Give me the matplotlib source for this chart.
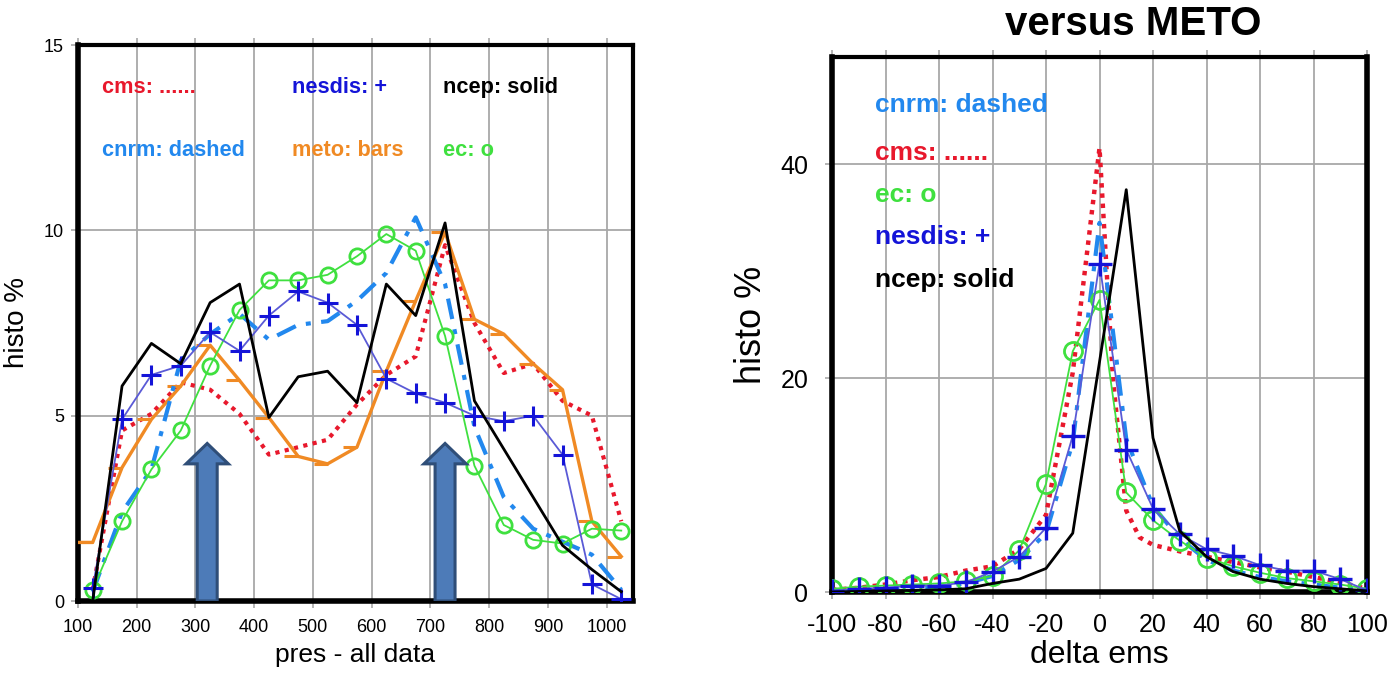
import matplotlib
matplotlib.use("Agg")
import matplotlib.pyplot as plt
from matplotlib.path import Path
from matplotlib.patches import FancyArrow

plt.rcParams['font.family'] = ['Liberation Sans', 'DejaVu Sans']
plt.rcParams['axes.unicode_minus'] = False

# ---------------- pressure histograms (left panel) ----------------
pres = [125, 175, 225, 275, 325, 375, 425, 475, 525, 575,
        625, 675, 725, 775, 825, 875, 925, 975, 1025]

ncep_pres = [0.0, 5.8, 6.95, 6.4, 8.05, 8.55, 4.95, 6.05, 6.2, 5.35,
             8.55, 7.7, 10.2, 5.4, 4.1, 2.8, 1.5, 0.85, 0.25]
cms_pres = [0.3, 4.6, 5.05, 5.9, 5.7, 5.05, 3.95, 4.15, 4.35, 5.3,
            6.1, 6.6, 9.6, 7.5, 6.15, 6.4, 5.4, 5.0, 2.15]
nesdis_pres = [0.35, 4.9, 6.1, 6.35, 7.25, 6.75, 7.7, 8.35, 8.05, 7.45,
               6.0, 5.6, 5.35, 5.0, 4.85, 5.0, 3.95, 0.45, 0.05]
ec_pres = [0.3, 2.15, 3.55, 4.6, 6.35, 7.85, 8.65, 8.65, 8.8, 9.3,
           9.9, 9.45, 7.15, 3.65, 2.05, 1.65, 1.55, 1.95, 1.9]
cnrm_pres = [0.25, 2.4, 3.55, 6.5, 7.2, 7.75, 7.05, 7.45, 7.55, 8.1,
             8.85, 10.35, 8.55, 4.7, 2.8, 1.95, 1.6, 1.25, 0.3]
meto_pres_x = [100] + pres
meto_pres = [1.58, 1.58, 3.6, 4.9, 5.8, 6.9, 5.95, 4.95, 3.9, 3.7, 4.15,
             6.2, 8.1, 9.95, 7.6, 7.2, 6.4, 5.7, 2.15, 1.2]

arrow_pres = [320, 725]
arrow_top = 4.25

# ---------------- delta ems histograms (right panel) ----------------
dems = [-100, -90, -80, -70, -60, -50, -40, -30, -20, -10,
        0, 10, 20, 30, 40, 50, 60, 70, 80, 90, 100]

ncep_dems = [0.0, 0.05, 0.1, 0.15, 0.2, 0.3, 0.8, 1.2, 2.2, 5.5,
             21.5, 37.6, 14.4, 5.7, 3.3, 1.9, 1.2, 0.8, 0.5, 0.3, 0.1]
cnrm_dems = [0.05, 0.1, 0.2, 0.3, 0.5, 0.8, 1.5, 3.0, 5.5, 14.0,
             34.5, 14.3, 8.0, 5.0, 3.0, 2.0, 1.4, 1.0, 0.7, 0.4, 0.2]
ec_dems = [0.3, 0.5, 0.6, 0.7, 0.8, 1.0, 1.5, 3.9, 10.1, 22.5,
           27.3, 9.3, 6.7, 4.8, 3.2, 2.4, 1.8, 1.3, 1.0, 0.7, 0.3]
nesdis_dems = [0.1, 0.3, 0.4, 0.6, 0.6, 0.9, 1.9, 3.3, 6.0, 14.6,
               30.7, 13.3, 7.8, 5.4, 4.0, 3.4, 2.5, 2.0, 2.0, 1.2, 0.15]
cms_dems_x = [-100, -90, -80, -70, -60, -50, -40, -30, -20, -10,
              0, 5, 10, 15, 20, 30, 40, 50, 60, 70, 80, 90, 100]
cms_dems = [0.2, 0.4, 0.7, 1.1, 1.4, 2.0, 2.4, 4.0, 7.2, 20.5,
            41.5, 20.0, 7.6, 5.1, 4.4, 3.8, 3.3, 2.8, 2.3, 1.9, 1.4, 0.9, 0.3]

# colours
C_RED = '#E8182C'
C_BLUE = '#1414D8'
C_BLUE_LINE = '#5A5AD6'
C_CYAN = '#2288EE'
C_ORANGE = '#F08A24'
C_GREEN = '#3FE03F'
C_GRID = '#A8A8A8'

fig = plt.figure(figsize=(13.89, 6.79), dpi=100)
W, H = 1389.0, 679.0
ax1 = fig.add_axes([78 / W, 1 - 601 / H, (633 - 78) / W, (601 - 45) / H])
ax2 = fig.add_axes([832 / W, 1 - 592 / H, (1367 - 832) / W, (592 - 57) / H])

# left-side bar marker for the meto curve
bar_marker = Path([(-1.0, 0.0), (0.0, 0.0)], [Path.MOVETO, Path.LINETO])


def style_axes(ax, lw_lb, lw_tr):
    for side in ('left', 'bottom'):
        ax.spines[side].set_linewidth(lw_lb)
    for side in ('top', 'right'):
        ax.spines[side].set_linewidth(lw_tr)
    ax.grid(True, color=C_GRID, linewidth=1.3, zorder=0)
    ax.set_axisbelow(True)
    ax.tick_params(direction='out', length=5, width=1.2, color=C_GRID,
                   top=True, right=False)


# ---------- left panel ----------
ax1.plot(pres, cms_pres, color=C_RED, linestyle=(0, (1, 1.3)), linewidth=3, zorder=3)
ax1.plot(meto_pres_x, meto_pres, color=C_ORANGE, linewidth=2.4, zorder=3,
         marker=bar_marker, markersize=20, markeredgewidth=2.2,
         markevery=list(range(1, len(meto_pres_x))))
ax1.plot(pres, cnrm_pres, color=C_CYAN, linestyle=(0, (5, 2.5, 1.2, 2.5)),
         linewidth=3, zorder=3)
ax1.plot(pres, ec_pres, color=C_GREEN, linewidth=1.3, marker='o', markersize=11,
         markerfacecolor='none', markeredgecolor=C_GREEN, markeredgewidth=2, zorder=4)
ax1.plot(pres, nesdis_pres, color=C_BLUE_LINE, linewidth=1.3, marker='+',
         markersize=15, markeredgecolor=C_BLUE, markeredgewidth=2.2, zorder=5)
ax1.plot(pres, ncep_pres, color='black', linewidth=2, zorder=6)

for xa in arrow_pres:
    ax1.add_patch(FancyArrow(xa, 0, 0, arrow_top, width=34, head_width=72,
                             head_length=0.55, length_includes_head=True,
                             facecolor='#4D7BB8', edgecolor='#2F4E78',
                             linewidth=2.2, zorder=7))

ax1.set_xlim(100, 1045)
ax1.set_ylim(0, 15)
ax1.set_xticks(range(100, 1001, 100))
ax1.set_yticks([0, 5, 10, 15])
style_axes(ax1, 4, 3)
ax1.tick_params(axis='x', labelsize=13, pad=8)
ax1.tick_params(axis='y', labelsize=13, pad=5)
ax1.set_xlabel('pres - all data', fontsize=19, labelpad=5)
ax1.set_ylabel('histo %', fontsize=20, labelpad=10)

lbl_kw = dict(transform=ax1.transAxes, fontsize=15.7, fontweight='bold', va='center')
ax1.text(0.043, 0.923, 'cms: ......', color=C_RED, **lbl_kw)
ax1.text(0.386, 0.923, 'nesdis: +', color=C_BLUE, **lbl_kw)
ax1.text(0.658, 0.923, 'ncep: solid', color='black', **lbl_kw)
ax1.text(0.043, 0.811, 'cnrm: dashed', color=C_CYAN, **lbl_kw)
ax1.text(0.386, 0.811, 'meto: bars', color=C_ORANGE, **lbl_kw)
ax1.text(0.658, 0.811, 'ec: o', color=C_GREEN, **lbl_kw)

# ---------- right panel ----------
ax2.plot(cms_dems_x, cms_dems, color=C_RED, linestyle=(0, (1, 1.3)), linewidth=3.2, zorder=3)
ax2.plot(dems, cnrm_dems, color=C_CYAN, linestyle=(0, (5, 2.5, 1.2, 2.5)),
         linewidth=3, zorder=3)
ax2.plot(dems, ec_dems, color=C_GREEN, linewidth=1.3, marker='o', markersize=13,
         markerfacecolor='none', markeredgecolor=C_GREEN, markeredgewidth=2, zorder=4)
ax2.plot(dems, nesdis_dems, color=C_BLUE_LINE, linewidth=1.3, marker='+',
         markersize=17, markeredgecolor=C_BLUE, markeredgewidth=2.4, zorder=5)
ax2.plot(dems, ncep_dems, color='black', linewidth=2, zorder=6)

ax2.set_xlim(-100, 100)
ax2.set_ylim(0, 50)
ax2.set_xticks(range(-100, 101, 20))
ax2.set_yticks([0, 20, 40])
style_axes(ax2, 4, 3)
ax2.spines['right'].set_linewidth(4)
ax2.tick_params(axis='x', labelsize=18, pad=10)
ax2.tick_params(axis='y', labelsize=18, pad=12)
ax2.set_xlabel('delta ems', fontsize=23, labelpad=2)
ax2.set_ylabel('histo %', fontsize=26, labelpad=8)

lbl2 = dict(transform=ax2.transAxes, fontsize=19, fontweight='bold', va='center')
ax2.text(0.08, 0.910, 'cnrm: dashed', color=C_CYAN, **lbl2)
ax2.text(0.08, 0.821, 'cms: ......', color=C_RED, **lbl2)
ax2.text(0.08, 0.742, 'ec: o', color=C_GREEN, **lbl2)
ax2.text(0.08, 0.664, 'nesdis: +', color=C_BLUE, **lbl2)
ax2.text(0.08, 0.583, 'ncep: solid', color='black', **lbl2)

fig.text(1133 / W, 1 - 24 / H, 'versus METO', ha='center', va='center',
         fontsize=29, fontweight='bold')

fig.savefig('out.png', dpi=100)
